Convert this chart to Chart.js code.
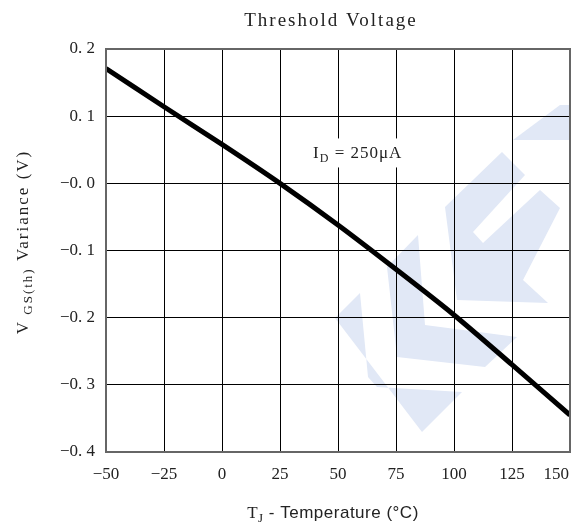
<!DOCTYPE html>
<html>
<head>
<meta charset="utf-8">
<script src="https://cdn.jsdelivr.net/npm/chart.js@4/dist/chart.umd.min.js"></script>
<style>
  body { margin: 0; background: #fff; }
  canvas { display: block; }
</style>
</head>
<body>
<canvas id="chart" width="571" height="529"></canvas>
<script>
// ============================
// DATA
// ============================
const temps = [-50, -25, 0, 25, 50, 75, 100, 125, 150];
const vthVariance = [0.171, 0.114, 0.058, 0.0, -0.062, -0.128, -0.196, -0.270, -0.345];
const xTickLabels = ["−50", "−25", "0", "25", "50", "75", "100", "125", "150"];
const yTickLabels = ["−0. 4", "−0. 3", "−0. 2", "−0. 1", "−0. 0", "0. 1", "0. 2"];

const SERIF = "'Liberation Serif', 'DejaVu Serif', serif";
const SANS = "'Liberation Sans', Arial, sans-serif";
const TEXT = "#222";

// light blue logo in the background
const watermark = [
  [[513, 140], [560, 105], [571, 105], [571, 140]],
  [[445, 207], [502, 152], [525, 175], [473, 232], [483, 243], [540, 190], [560, 208], [523, 280], [548, 303], [457, 300]],
  [[387, 267], [418, 235], [425, 325], [517, 337], [485, 367], [397, 357]],
  [[335, 318], [360, 293], [368, 377], [377, 387], [462, 392], [422, 432]]
];

// draw text made of parts (for subscripts)
function drawParts(ctx, parts, cx, baseline, spacing) {
  ctx.letterSpacing = spacing + "px";
  let total = 0;
  parts.forEach(p => { ctx.font = p.font; total += ctx.measureText(p.text).width; });
  let x = cx - total / 2;
  ctx.textAlign = "left";
  ctx.textBaseline = "alphabetic";
  parts.forEach(p => {
    ctx.font = p.font;
    ctx.fillText(p.text, x, baseline + (p.dy || 0));
    x += ctx.measureText(p.text).width;
  });
  ctx.letterSpacing = "0px";
  return total;
}

const decorations = {
  id: "decorations",
  beforeDraw(chart) {
    const ctx = chart.ctx;
    ctx.save();
    ctx.fillStyle = "#fff";
    ctx.fillRect(0, 0, chart.width, chart.height);
    ctx.fillStyle = "#e1e8f6";
    watermark.forEach(poly => {
      ctx.beginPath();
      poly.forEach(([x, y], i) => i ? ctx.lineTo(x, y) : ctx.moveTo(x, y));
      ctx.closePath();
      ctx.fill();
    });
    ctx.restore();
  },
  afterDraw(chart) {
    const ctx = chart.ctx;
    const area = chart.chartArea;
    const xs = chart.scales.x;
    const ys = chart.scales.y;
    ctx.save();

    // frame
    ctx.strokeStyle = "#666";
    ctx.lineWidth = 2;
    ctx.strokeRect(area.left, area.top, area.right - area.left, area.bottom - area.top);

    ctx.fillStyle = TEXT;

    // title
    drawParts(ctx, [{ text: "Threshold Voltage", font: "19px " + SERIF }], 331, 26, 2);

    // x tick labels
    ctx.font = "17px " + SERIF;
    ctx.textBaseline = "middle";
    ctx.textAlign = "center";
    temps.forEach((t, i) => {
      const w = ctx.measureText(xTickLabels[i]).width;
      let px = xs.getPixelForValue(t);
      px = Math.min(px, chart.width - 2 - w / 2);
      ctx.fillText(xTickLabels[i], px, 475);
    });

    // x title
    drawParts(ctx, [
      { text: "T", font: "17px " + SERIF },
      { text: "J", font: "13px " + SERIF, dy: 4 },
      { text: " - Temperature (°C)", font: "17px " + SANS }
    ], 333, 518, 0.5);

    // y title
    ctx.translate(28, 242);
    ctx.rotate(-Math.PI / 2);
    drawParts(ctx, [
      { text: "V", font: "17px " + SERIF },
      { text: " GS(th)", font: "13px " + SERIF, dy: 4 },
      { text: " Variance (V)", font: "17px " + SERIF }
    ], 0, 0, 2);
    ctx.restore();

    // annotation with white box
    ctx.save();
    const ax = xs.getPixelForValue(58.5);
    const ay = ys.getPixelForValue(0.046);
    ctx.fillStyle = "#fff";
    ctx.fillRect(ax - 53, ay - 14, 106, 29);
    ctx.fillStyle = TEXT;
    drawParts(ctx, [
      { text: "I", font: "17px " + SERIF },
      { text: "D", font: "12px " + SERIF, dy: 4 },
      { text: " = 250μA", font: "17px " + SERIF }
    ], ax, ay + 6, 1);
    ctx.restore();
  }
};

// ============================
// CHART
// ============================
const ctx = document.getElementById("chart").getContext("2d");
new Chart(ctx, {
  type: "line",
  data: {
    datasets: [{
      data: temps.map((t, i) => ({ x: t, y: vthVariance[i] })),
      borderColor: "#000",
      borderWidth: 5,
      pointRadius: 0,
      tension: 0.3,
      fill: false
    }]
  },
  options: {
    responsive: false,
    animation: false,
    layout: { autoPadding: false, padding: { top: 49, right: 1, bottom: 0, left: 0 } },
    plugins: { legend: { display: false }, tooltip: { enabled: false } },
    scales: {
      x: {
        type: "linear",
        min: -50,
        max: 150,
        afterFit: s => { s.height = 77; },
        ticks: { stepSize: 25, display: false },
        grid: { color: "#000", lineWidth: 1, drawTicks: false },
        border: { display: false }
      },
      y: {
        min: -0.4,
        max: 0.2,
        afterFit: s => { s.width = 106; },
        ticks: {
          stepSize: 0.1,
          padding: 11,
          color: TEXT,
          font: { family: SERIF, size: 17 },
          callback: (v, i) => yTickLabels[i]
        },
        grid: { color: "#000", lineWidth: 1, drawTicks: false },
        border: { display: false }
      }
    }
  },
  plugins: [decorations]
});
</script>
</body>
</html>
